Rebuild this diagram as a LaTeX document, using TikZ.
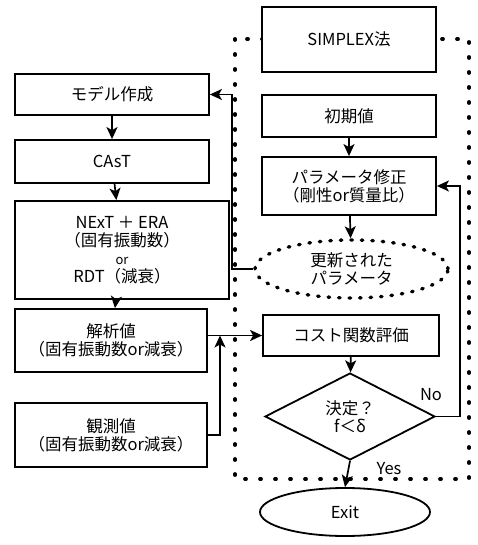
\documentclass[tikz,border=0pt]{standalone}
\usepackage{fontspec}
\setmainfont{Noto Sans CJK JP}
\usetikzlibrary{arrows.meta,shapes.geometric}
\begin{document}
\begin{tikzpicture}[x=1pt,y=-1pt,
  every node/.style={font=\fontsize{16.5}{18}\selectfont},
  box/.style={draw,line width=1.8pt,fill=white,inner sep=0pt,align=center,font=\fontsize{16.5}{18}\selectfont},
  arr/.style={line width=1.7pt,-{Stealth[length=12pt,width=11pt,inset=3pt]}},
  frame/.style={line width=3.8pt,dash pattern=on 1pt off 14pt,line cap=round},
  dotell/.style={draw,ellipse,line width=3.4pt,dash pattern=on 1.5pt off 9pt,line cap=round,inner sep=0pt,align=center}]
\useasboundingbox (0,0) rectangle (478,545);
% dotted frame
\draw[frame] (235,39) rectangle (469,479);
% left column
\node[box,minimum width=194pt,minimum height=41pt] (model) at (112,94.5) {モデル作成};
\node[box,minimum width=194pt,minimum height=43pt] (cast) at (112,161.5) {CAsT};
\node[box,minimum width=214pt,minimum height=98pt] (next) at (122,250) {NExT ＋ ERA\\（固有振動数）\\{\fontsize{13}{17}\selectfont or}\\RDT（減衰）};
\node[box,minimum width=192pt,minimum height=63pt] (kaiseki) at (111,340.5) {解析値\\（固有振動数or減衰）};
\node[box,minimum width=192pt,minimum height=64pt] (kansoku) at (111,435) {観測値\\（固有振動数or減衰）};
% right column
\node[box,minimum width=174pt,minimum height=65pt] (simplex) at (349,39.5) {SIMPLEX法};
\node[box,minimum width=174pt,minimum height=42pt] (shoki) at (349,116) {初期値};
\node[box,minimum width=174pt,minimum height=58pt] (param) at (349,186) {パラメータ修正\\（剛性or質量比）};
\node[dotell,minimum width=193pt,minimum height=58pt] (kousin) at (351.5,269) {更新された\\パラメータ};
\node[box,minimum width=176pt,minimum height=41pt] (cost) at (351,335.5) {コスト関数評価};
\node[box,diamond,aspect=2,minimum width=170pt,minimum height=87pt] (dia) at (350,416.5) {決定？\\f＜δ};
\node[box,ellipse,minimum width=170pt,minimum height=48pt] (exit) at (345,512) {Exit};
% connectors
\coordinate (loopx) at (232,0);
\coordinate (join) at (220,335.5);
\coordinate (nox) at (460,0);
\draw[arr] (model) -- (cast);
\draw[arr] (cast) -- (next);
\draw[arr] (next) -- (kaiseki);
\draw[arr] (kousin.west) -- (kousin.west -| loopx) |- (model.east);
\draw[arr] (kaiseki.east |- cost.west) -- (cost.west);
\draw[arr] (kansoku.east) -| (join);
\draw[arr] (shoki) -- (param);
\draw[arr] (param) -- (kousin);
\draw[arr] (cost) -- (dia);
\draw[arr] (dia.east) -- (dia.east -| nox) |- (param.east);
\draw[arr] (dia.south) -- (exit.north);
\node[anchor=base] (no) at (431,400) {No};
\node[anchor=base] (yes) at (389,474) {Yes};
\end{tikzpicture}
\end{document}
